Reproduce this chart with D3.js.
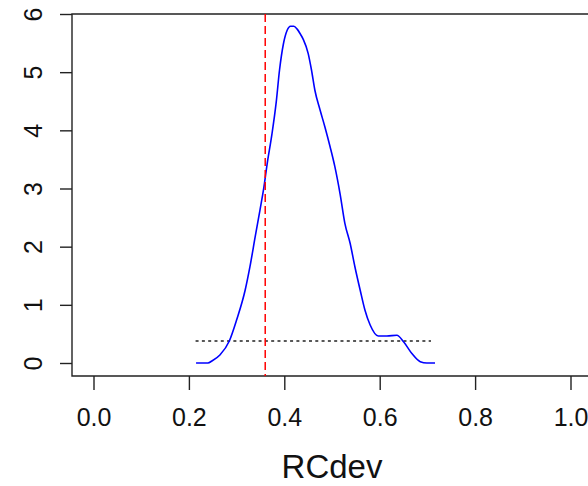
<!DOCTYPE html>
<html><head><meta charset="utf-8">
<script src="https://cdn.jsdelivr.net/npm/d3@7"></script>
<style>
html,body{margin:0;padding:0;background:#fff;}
svg{display:block;font-family:"Liberation Sans",Arial,sans-serif;}
</style></head>
<body>
<svg id="chart" width="588" height="486"></svg>
<script>
// Density curve points (x = RCdev, y = density)
const densX = [0.215,0.240,0.248,0.265,0.285,0.300,0.318,0.328,0.339,0.349,0.357,0.364,0.374,0.383,0.390,0.398,0.406,0.413,0.420,0.427,0.434,0.440,0.450,0.457,0.464,0.475,0.485,0.496,0.506,0.517,0.527,0.538,0.548,0.559,0.569,0.580,0.597,0.615,0.636,0.650,0.667,0.685,0.699,0.716];
const densY = [0,0,0.034,0.138,0.383,0.739,1.255,1.656,2.171,2.630,3.010,3.420,3.930,4.480,5.037,5.480,5.720,5.790,5.790,5.740,5.650,5.560,5.324,5.037,4.693,4.349,4.062,3.718,3.375,2.905,2.402,2.058,1.655,1.255,0.911,0.653,0.464,0.464,0.476,0.366,0.167,0.022,0,0];
const refLineX = [0.36];            // red dashed vertical line
const hLineY = [0.378];             // dotted horizontal line level
const hLineRange = [0.214, 0.7075]; // dotted line extent
const xTicks = [0.0,0.2,0.4,0.6,0.8,1.0];
const xTickLabels = ["0.0","0.2","0.4","0.6","0.8","1.0"];
const yTicks = [0,1,2,3,4,5,6];
const yTickLabels = ["0","1","2","3","4","5","6"];
const xLabel = "RCdev";

const svg = d3.select("#chart");
const plot = {left:72, right:592, top:14, bottom:376};
const x = d3.scaleLinear().domain([0,1]).range([93.5,570.5]);
const y = d3.scaleLinear().domain([0,6]).range([363,14]);

// box
svg.append("path")
  .attr("d", `M${plot.right},${plot.top}H${plot.left}V${plot.bottom}H${plot.right}`)
  .attr("fill","none").attr("stroke","#222").attr("stroke-width",1.4);

// x axis
const gx = svg.append("g").attr("transform",`translate(0,${plot.bottom})`)
  .call(d3.axisBottom(x).tickValues(xTicks).tickSize(14).tickPadding(18)
    .tickFormat((d,i)=>xTickLabels[i]));
gx.select(".domain").remove();
gx.selectAll(".tick line").attr("stroke","#222").attr("stroke-width",1.4);
gx.selectAll(".tick text").attr("font-size",25).attr("fill","#111")
  .attr("font-family","Liberation Sans, Arial, sans-serif");

// y axis
const gy = svg.append("g").attr("transform",`translate(${plot.left},0)`)
  .call(d3.axisLeft(y).tickValues(yTicks).tickSize(12)
    .tickFormat((d,i)=>yTickLabels[i]));
gy.select(".domain").remove();
gy.selectAll(".tick line").attr("stroke","#222").attr("stroke-width",1.4);
gy.selectAll(".tick text")
  .attr("font-size",25).attr("fill","#111")
  .attr("font-family","Liberation Sans, Arial, sans-serif")
  .attr("x",null).attr("dy",null)
  .attr("text-anchor","middle")
  .attr("transform","translate(-30,0) rotate(-90)");

// x label
svg.append("text").attr("x",(x(0)+x(1))/2).attr("y",478)
  .attr("text-anchor","middle").attr("font-size",33).attr("fill","#111")
  .text(xLabel);

// dotted horizontal line
svg.append("line")
  .attr("x1",x(hLineRange[0])).attr("x2",x(hLineRange[1]))
  .attr("y1",y(hLineY[0])).attr("y2",y(hLineY[0]))
  .attr("stroke","#222").attr("stroke-width",1.4).attr("stroke-dasharray","3,3.3");

// density curve
const pts = densX.map((d,i)=>[d,densY[i]]);
svg.append("path").datum(pts)
  .attr("d", d3.line().x(d=>x(d[0])).y(d=>y(d[1])).curve(d3.curveMonotoneX))
  .attr("fill","none").attr("stroke","#0000ff").attr("stroke-width",1.6);

// red dashed line
svg.append("line")
  .attr("x1",x(refLineX[0])).attr("x2",x(refLineX[0]))
  .attr("y1",plot.top).attr("y2",plot.bottom)
  .attr("stroke","#ff0000").attr("stroke-width",1.5).attr("stroke-dasharray","8,4");
</script>
</body></html>
